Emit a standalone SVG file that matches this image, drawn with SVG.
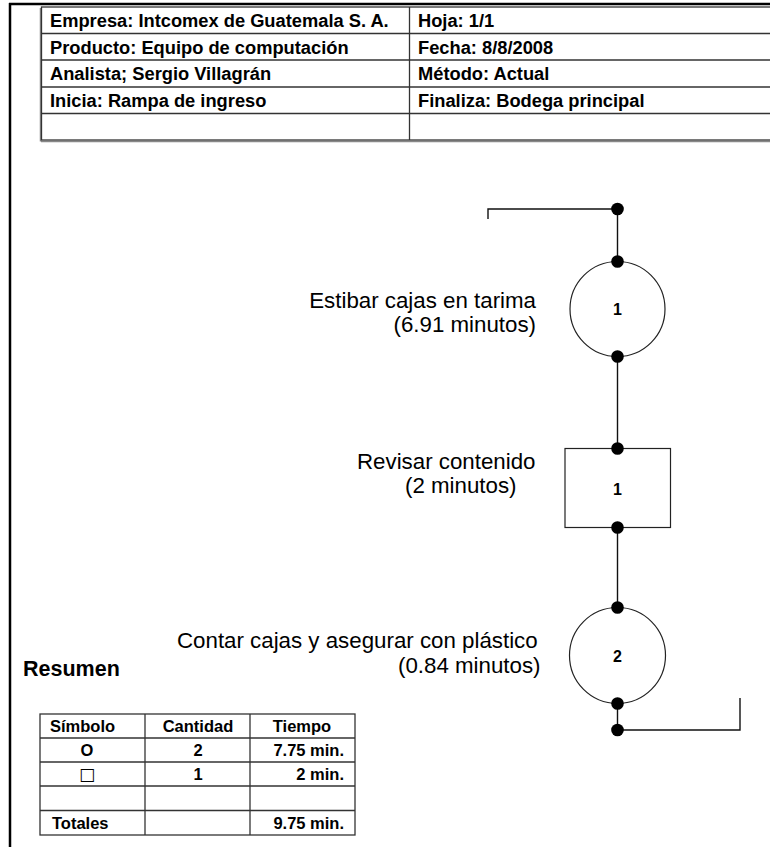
<svg xmlns="http://www.w3.org/2000/svg" width="770" height="847" viewBox="0 0 770 847">
<style>
.hdr{font-family:"Liberation Sans",Arial,sans-serif;font-size:18.3px;font-weight:bold;fill:#000}
.lbl{font-family:"Liberation Sans",Arial,sans-serif;font-size:22.3px;fill:#000}
.num{font-family:"Liberation Sans",Arial,sans-serif;font-size:16px;font-weight:bold;fill:#000}
.sum{font-family:"Liberation Sans",Arial,sans-serif;font-size:16.5px;font-weight:bold;fill:#000}
.grid{stroke:#333;stroke-width:1.3;fill:none}
.shape{stroke:#222;stroke-width:1.2;fill:#fff}
.conn{stroke:#111;stroke-width:1.4;fill:none}
.dot{fill:#000}
</style>
<rect width="770" height="847" fill="#fff"/>
<!-- outer frame -->
<g id="frame">
<line x1="9" y1="4" x2="770" y2="4" stroke="#000" stroke-width="2.5"/>
<line x1="10" y1="3" x2="10" y2="847" stroke="#000" stroke-width="2.5"/>
</g>
<!-- header table -->
<g id="header-table">
<line x1="40.5" y1="8" x2="40.5" y2="141.5" stroke="#888" stroke-width="1.5"/>
<line x1="41" y1="141.5" x2="770" y2="141.5" stroke="#888" stroke-width="1.5"/>
<rect x="41.5" y="7" width="740" height="133" class="grid"/>
<line x1="41.5" y1="33.5" x2="770" y2="33.5" class="grid"/>
<line x1="41.5" y1="60" x2="770" y2="60" class="grid"/>
<line x1="41.5" y1="87" x2="770" y2="87" class="grid"/>
<line x1="41.5" y1="113.5" x2="770" y2="113.5" class="grid"/>
<line x1="409.5" y1="7" x2="409.5" y2="140" class="grid"/>
<text class="hdr" x="50" y="27">Empresa: Intcomex de Guatemala S. A.</text>
<text class="hdr" x="50" y="53.5">Producto: Equipo de computación</text>
<text class="hdr" x="50" y="80">Analista; Sergio Villagrán</text>
<text class="hdr" x="50" y="106.5">Inicia: Rampa de ingreso</text>
<text class="hdr" x="418" y="27">Hoja: 1/1</text>
<text class="hdr" x="418" y="53.5">Fecha: 8/8/2008</text>
<text class="hdr" x="418" y="80">Método: Actual</text>
<text class="hdr" x="418" y="106.5">Finaliza: Bodega principal</text>
</g>
<!-- connectors -->
<g id="connectors">
<polyline class="conn" points="488,219 488,209 617.5,209 617.5,261.5"/>
<line class="conn" x1="617.5" y1="356.5" x2="617.5" y2="448.5"/>
<line class="conn" x1="617.5" y1="527.5" x2="617.5" y2="607.5"/>
<polyline class="conn" points="617.5,703.5 617.5,730 740,730 740,698"/>
<circle class="dot" cx="617.5" cy="209" r="6.3"/>
<circle class="dot" cx="617.5" cy="730" r="6.3"/>
</g>
<!-- node: operation 1 -->
<g id="op1">
<circle class="shape" cx="617.5" cy="309" r="47.5"/>
<circle class="dot" cx="617.5" cy="261.5" r="6.3"/>
<circle class="dot" cx="617.5" cy="356.5" r="6.3"/>
<text class="num" x="617.5" y="315" text-anchor="middle">1</text>
<text class="lbl" x="536" y="308" text-anchor="end">Estibar cajas en tarima</text>
<text class="lbl" x="536" y="332" text-anchor="end">(6.91 minutos)</text>
</g>
<!-- node: inspection 1 -->
<g id="insp1">
<rect class="shape" x="565" y="448.5" width="105.5" height="79"/>
<circle class="dot" cx="617.5" cy="448.5" r="6.3"/>
<circle class="dot" cx="617.5" cy="527.5" r="6.3"/>
<text class="num" x="617.5" y="495" text-anchor="middle">1</text>
<text class="lbl" x="357" y="469">Revisar contenido</text>
<text class="lbl" x="405" y="493">(2 minutos)</text>
</g>
<!-- node: operation 2 -->
<g id="op2">
<circle class="shape" cx="617.5" cy="655.5" r="48"/>
<circle class="dot" cx="617.5" cy="607.5" r="6.3"/>
<circle class="dot" cx="617.5" cy="703.5" r="6.3"/>
<text class="num" x="617.5" y="661.5" text-anchor="middle">2</text>
<text class="lbl" x="177" y="648">Contar cajas y asegurar con plástico</text>
<text class="lbl" x="398" y="673">(0.84 minutos)</text>
</g>
<!-- summary -->
<g id="summary">
<text x="23" y="676" font-family="Liberation Sans, Arial, sans-serif" font-size="21.5" font-weight="bold">Resumen</text>
<rect x="40" y="714" width="315" height="121" class="grid"/>
<line x1="40" y1="738" x2="355" y2="738" class="grid"/>
<line x1="40" y1="762" x2="355" y2="762" class="grid"/>
<line x1="40" y1="786" x2="355" y2="786" class="grid"/>
<line x1="40" y1="810.5" x2="355" y2="810.5" class="grid"/>
<line x1="145" y1="714" x2="145" y2="835" class="grid"/>
<line x1="250" y1="714" x2="250" y2="835" class="grid"/>
<text class="sum" x="50" y="732">Símbolo</text>
<text class="sum" x="198" y="732" text-anchor="middle">Cantidad</text>
<text class="sum" x="302" y="732" text-anchor="middle">Tiempo</text>
<text class="sum" x="87" y="756" text-anchor="middle">O</text>
<text class="sum" x="198" y="756" text-anchor="middle">2</text>
<text class="sum" x="344" y="756" text-anchor="end">7.75 min.</text>
<text x="87" y="780" text-anchor="middle" font-family="DejaVu Sans, sans-serif" font-size="17">□</text>
<text class="sum" x="198" y="780" text-anchor="middle">1</text>
<text class="sum" x="344" y="780" text-anchor="end">2 min.</text>
<text class="sum" x="52" y="829">Totales</text>
<text class="sum" x="344" y="829" text-anchor="end">9.75 min.</text>
</g>
</svg>
